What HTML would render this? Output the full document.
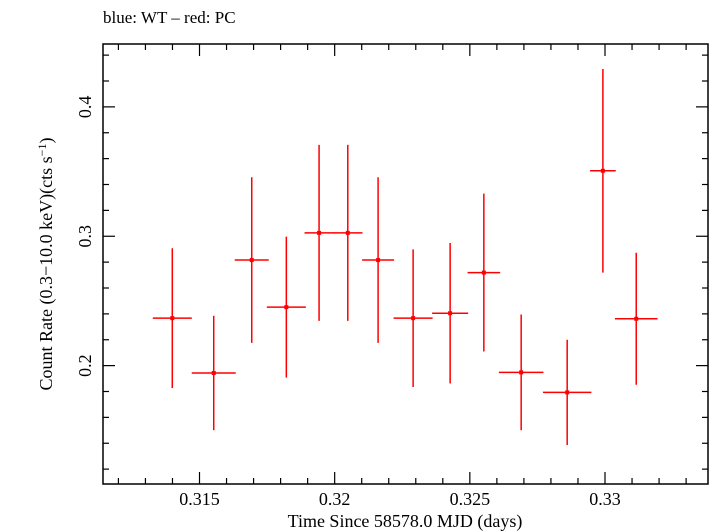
<!DOCTYPE html>
<html><head><meta charset="utf-8"><style>
html,body{margin:0;padding:0;background:#fff;}
svg{display:block;font-family:"Liberation Serif",serif;}
</style></head><body>
<svg id="chart" width="709" height="532" viewBox="0 0 709 532" xmlns="http://www.w3.org/2000/svg">
<text x="103" y="23" font-size="17">blue: WT – red: PC</text>
<rect x="103" y="44" width="605" height="440" fill="none" stroke="#000" stroke-width="1.5"/>
<g id="axes"></g>
<g id="marks"></g>
<text x="405" y="527" font-size="18" text-anchor="middle">Time Since 58578.0 MJD (days)</text>
<text transform="translate(52,264) rotate(-90)" font-size="18" text-anchor="middle">Count Rate (0.3−10.0 keV)(cts s<tspan dy="-6" font-size="12">−1</tspan><tspan dy="6">)</tspan></text>
</svg>
<script>
const times=[0.313993,0.315526,0.316932,0.318212,0.319423,0.320485,0.321606,0.322902,0.324271,0.325518,0.326899,0.328601,0.329922,0.331155];
const halfWidths=[0.000722,0.000814,0.000629,0.000722,0.000537,0.000544,0.000592,0.000722,0.000666,0.000603,0.000825,0.000896,0.000474,0.000788];
const rates=[0.2367,0.1943,0.2816,0.2452,0.3026,0.3026,0.2816,0.2367,0.2405,0.2719,0.1948,0.1793,0.3506,0.2362];
const rateErrors=[0.054,0.0442,0.064,0.0545,0.068,0.068,0.064,0.0532,0.0543,0.061,0.0447,0.0407,0.0787,0.051];
const xTickLabels=["0.315","0.32","0.325","0.33"];
const yTickLabels=["0.2","0.3","0.4"];
const X0=0.31143,X1=0.33381,Y0=0.1085,Y1=0.4486;
const L=103,R=708,T=44,B=484;
function sx(v){return L+(v-X0)/(X1-X0)*(R-L);}
function sy(v){return B-(v-Y0)/(Y1-Y0)*(B-T);}
const NS="http://www.w3.org/2000/svg";
const axes=document.getElementById('axes'),marks=document.getElementById('marks');
function line(p,x1,y1,x2,y2,st,w,name){const l=document.createElementNS(NS,'line');l.setAttribute('x1',x1);l.setAttribute('y1',y1);l.setAttribute('x2',x2);l.setAttribute('y2',y2);l.setAttribute('stroke',st);l.setAttribute('stroke-width',w);


p.appendChild(l);return l;}
for(let i=312;i<=333;i++){const v=i/1000;const x=sx(v);if(x<L||x>R)continue;const major=(i%5===0);const len=major?12:6;
line(axes,x,B,x,B-len,'#000',1.2,'x-tick');line(axes,x,T,x,T+len,'#000',1.2,'x-tick-top');}
xTickLabels.forEach(s=>{const t=document.createElementNS(NS,'text');t.setAttribute('x',sx(parseFloat(s)));t.setAttribute('y',505);t.setAttribute('font-size','18');t.setAttribute('text-anchor','middle');t.textContent=s;


axes.appendChild(t);});
for(let i=12;i<=44;i+=2){const v=i/100;const y=sy(v);if(y<T||y>B)continue;const major=(i%10===0);const len=major?12:6;
line(axes,L,y,L+len,y,'#000',1.2,'y-tick');line(axes,R,y,R-len,y,'#000',1.2,'y-tick-right');}
yTickLabels.forEach(s=>{const y=sy(parseFloat(s));const t=document.createElementNS(NS,'text');t.setAttribute('transform','translate(91,'+y+') rotate(-90)');t.setAttribute('font-size','18');t.setAttribute('text-anchor','middle');t.textContent=s;


axes.appendChild(t);});
times.forEach((tv,i)=>{const x=sx(tv),y=sy(rates[i]);
line(marks,sx(tv-halfWidths[i]),y,sx(tv+halfWidths[i]),y,'#ff0000',1.5,'x-error-bar');
line(marks,x,sy(rates[i]+rateErrors[i]),x,sy(rates[i]-rateErrors[i]),'#ff0000',1.5,'y-error-bar');
const c=document.createElementNS(NS,'rect');c.setAttribute('x',x-2);c.setAttribute('y',y-2);c.setAttribute('width',4);c.setAttribute('height',4);c.setAttribute('fill','#ff0000');


marks.appendChild(c);});
</script>
</body></html>
